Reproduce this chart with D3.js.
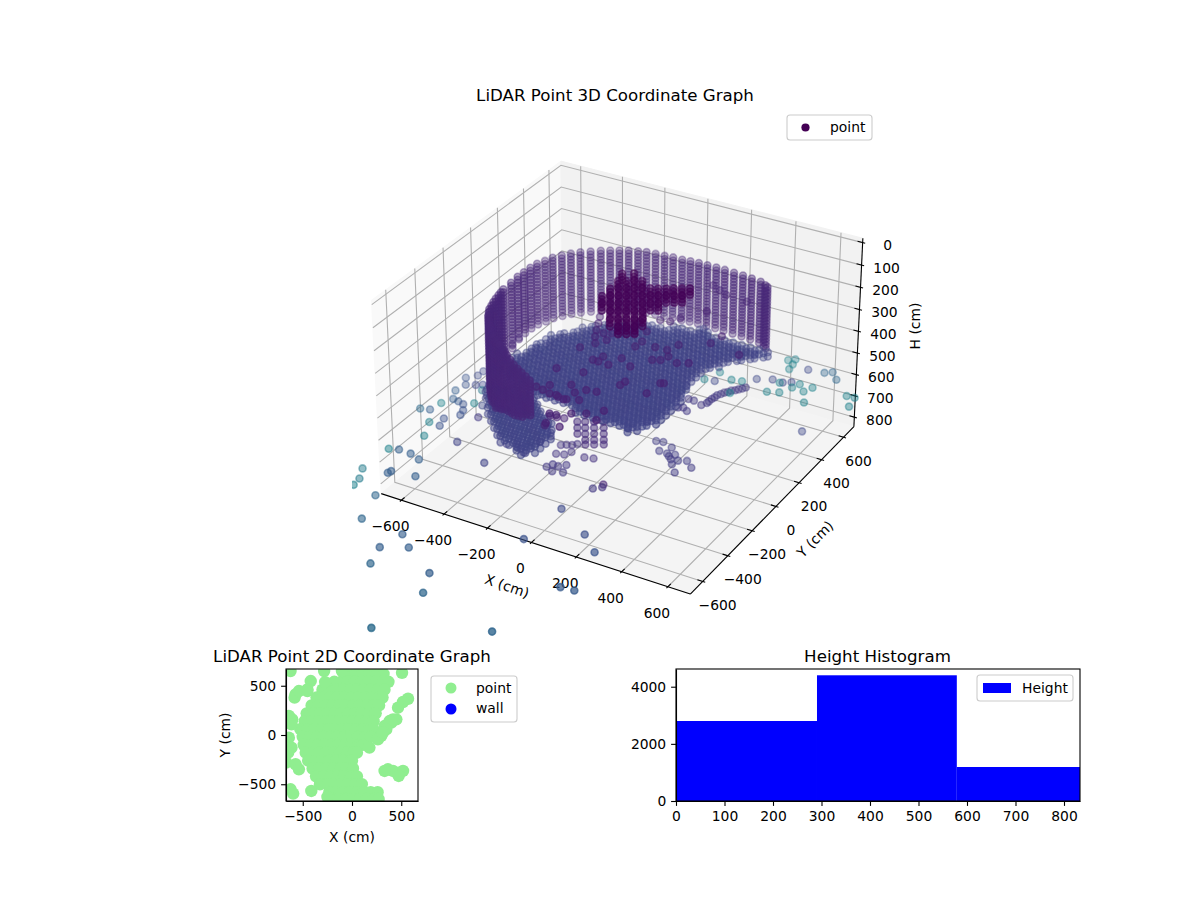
<!DOCTYPE html>
<html><head><meta charset="utf-8"><title>LiDAR</title>
<script src="https://cdn.jsdelivr.net/npm/d3@7"></script>
<style>html,body{margin:0;background:#fff}text{font-family:"DejaVu Sans";fill:#000}</style></head>
<body><svg id="c" width="1200" height="900"></svg>
<script>
// ---------- data ----------
const xTicks=[-600,-400,-200,0,200,400,600];
const yTicks=[-600,-400,-200,0,200,400,600];
const hTicks=[0,100,200,300,400,500,600,700,800];
const xLim=[-668,668],yLim=[-668,668],hLim=[828,-2];
// wall columns: x, y, lowest-reaching height
const wallColumns=[[-125,-488,430],[-154,-470,450],[-183,-453,470],[-212,-435,485],[-241,-417,500],[-273,-391,515],[-305,-365,530],[-337,-339,545],[-369,-313,560],[-400,-285,575],[-430,-258,600],[-458,-229,610],[-486,-200,615],[-510,-168,615],[-534,-137,615],[-547,-112,615],[-560,-88,615],[-568,-60,615],[-577,-31,615],[-584,-2,615],[-590,28,615],[-595,54,610],[-599,80,600],[-602,143,575],[-606,200,560],[-604,245,553],[-602,292,553],[-596,335,553],[-581,373,553],[-568,412,553],[-546,448,553],[-522,481,553],[-494,511,553],[-461,538,553],[-428,565,553],[-395,586,553],[-362,605,553],[-329,624,553],[-292,638,553],[-258,649,553],[-218,654,553],[-177,657,553],[-140,663,553],[-98,664,553],[-62,669,553],[-25,673,553],[15,673,553],[56,674,553],[96,673,553],[140,670,553],[183,667,553],[226,662,553],[270,656,553],[300,639,553],[315,629,553]];
const wallHeights=[270,284,298,312,326,340,354,368,382,396,410,424,438,452,466,480,494,508,522,536,553,560,575,590,600,615];
const wallColor=0.11;
// flat surface: grid lines and row extents
const gridXs=[-580,-540,-500,-460,-420,-380,-340,-300,-260,-220,-180,-140,-100,-60,-20,20,60,100,140,180,220,260,300,340,380];
const gridXsB=[-600,-560,-520,-480,-440,-400,-360,-320,-280,-240,-200,-160,-120,-80,-40,0,40,80,120,160,200,240,280,320,360];
const discColor=0.2;
const discLayers=[[550,gridXs],[560,gridXsB],[570,gridXs],[580,gridXsB]];
const discRows=[[640,0,40],[600,-117,344],[560,-275,303],[520,-330,263],[480,-365,222],[440,-402,205],[400,-430,190],[360,-458,176],[320,-480,175],[280,-500,175],[240,-518,175],[200,-525,187],[160,-532,195],[120,-538,204],[80,-543,208],[40,-545,210],[0,-532,212],[-40,-503,208],[-80,-427,202],[-120,-340,190],[-160,-125,172],[-200,130,152]];
const lumpColor=0.2;
const lumpLayers=[[650,gridXs],[665,gridXsB],[680,gridXs],[695,gridXsB]];
const lumpRows=[[-20,-590,-388],[-60,-600,-345],[-100,-580,-310],[-140,-555,-260],[-180,-520,-210],[-220,-485,-190],[-260,-455,-190],[-300,-415,-190],[-340,-365,-200],[-380,-275,-210]];
// dense dark cluster, stacked at several heights
const darkXY=[[-139,241],[-98,266],[-122,179],[-94,195],[-66,211],[-39,227],[-117,109],[-89,125],[-62,141],[-36,157],[-8,172],[19,189],[47,203],[75,219],[100,235],[128,251],[155,267],[-113,39],[-86,55],[-58,71],[-31,87],[-4,102],[23,119],[50,135],[78,149],[105,165],[133,181],[159,197],[-82,-16],[-54,0],[-27,16],[1,31],[27,48],[55,64],[82,79],[109,94],[-22,-54],[4,-39],[31,-22],[59,-6],[87,9],[9,-110],[36,-93],[64,-77],[91,-62],[117,-46],[67,-147],[95,-132],[122,-115]];
const darkHeights=[150,165,180];
const darkColor=0.005;
// vertical stacks: x, y, last height
const stackColumns=[[-96,-187,656],[-69,-172,705],[-39,-154,705],[-6,-135,705]];
const stackHeights=[600,628,656,684,705];
const stackColor=0.13;
// scattered dark points above the surface (h=400)
const scatterH400=[[-208,25],[-203,-164],[-95,-139],[-113,-35],[-88,-36],[-91,7],[-40,-39],[-21,32],[41,-7],[-21,141],[-17,189],[51,176],[103,180],[133,136],[123,238],[119,97],[90,81],[187,108],[228,131],[239,386],[369,288],[227,314],[-158,-289],[-86,-246],[-44,-290],[-56,-356],[-1,-330],[-97,-342],[-16,-251],[26,-242],[83,-120],[79,-152],[200,-156],[208,-62],[220,-56],[-47,-474],[-19,-471],[25,-432],[75,-404],[133,-427],[123,-352],[-23,-541],[37,-539],[-197,-326],[-162,-334],[-125,-345],[-83,-350],[-46,-350],[4,748],[48,722],[91,700],[191,692],[89,536],[-266,281],[-244,231],[-222,179],[-200,131],[-172,84],[-184,170],[-146,129],[-155,187],[-133,215],[-105,328],[-41,380],[0,389],[23,433],[-81,230],[-41,269]];
const scatterColor=0.09;
// chain on the right (h=650)
const chainH650=[[316,457],[298,429],[277,405],[260,377],[245,344],[240,307],[238,270],[226,245],[159,260],[184,260],[173,191],[155,181],[199,174],[308,442],[289,416],[270,389],[253,361],[244,324],[239,285]];
const chainColor=0.17;
// far points: x, y, h, colour value
const farPoints=[[364,741,650,.45],[387,762,650,.45],[396,720,650,.45],[401,678,650,.45],[167,513,650,.45],[139,431,650,.45],[237,482,650,.45],[279,494,650,.45],[281,387,650,.45],[406,470,650,.45],[452,490,650,.45],[418,560,650,.45],[494,590,650,.45],[479,551,650,.45],[534,545,650,.45],[552,590,650,.45],[575,468,650,.45],[701,601,650,.45],[735,604,650,.45],[746,530,650,.45],
[540,723,650,.33],[567,744,650,.33],[607,697,650,.33],[471,712,650,.22],[323,540,650,.22],[182,440,650,.22],[381,569,650,.22],[428,567,650,.22],[458,587,650,.22],[561,489,800,.22],
[-721,-595,700,.45],[-683,-579,700,.3],[-626,-582,700,.3],[-574,-602,700,.3],[-624,-745,700,.3],[-620,-728,700,.3],[-517,-712,700,.3],[-695,-344,700,.45],[-785,-274,700,.35],[-746,-261,700,.3],[-654,-443,700,.45],[-643,-347,700,.25],[-659,-292,700,.25],[-735,-195,700,.45],[-711,-143,700,.3],[-683,-148,700,.28],[-653,-158,700,.25],[-627,-199,700,.25],[-617,-235,700,.25],[-545,-214,700,.17],[-515,-416,700,.2],[-338,-495,700,.2],[-740,-81,700,.3],[-759,27,700,.25],[-728,-22,700,.25],[-725,108,700,.22],[-726,67,700,.22],[-692,-2,700,.22],[-667,13,700,.22],[-647,-25,700,.4],[-677,86,700,.2],[-644,25,700,.2],[-618,-130,700,.45],[-580,-128,700,.22],
[-823,-637,800,.42],[-791,-705,800,.42],[-784,-755,800,.45],[-667,-775,800,.33],[-618,-940,800,.33],[-421,-953,800,.3],[-446,-1070,800,.3],[-349,-1017,800,.3],[-414,-1179,800,.33],[-186,-1122,800,.3],[-135,-1242,800,.33],[-174,-1524,800,.35],[219,-1324,800,.33],
[-1,-749,800,.25],[184,-605,800,.24],[279,-692,800,.26],[287,-956,800,.28],[343,-949,800,.28],[14,-495,800,.22],[45,-308,800,.17],[66,-262,800,.1],[72,-281,800,.16],
[85,128,800,.18],[114,135,800,.18],[164,115,800,.18],[133,68,800,.18],[170,66,800,.18],[186,52,800,.18],[202,74,800,.18],[204,36,800,.18],[234,41,800,.18],[226,5,800,.18],[266,57,800,.18],[306,20,800,.18],[266,-44,800,.18],
[-214,-158,800,.16],[-232,-91,800,.16],[-213,-78,800,.16],[-193,-68,800,.16],[-178,-52,800,.16],[-168,-115,800,.16],[-183,-147,800,.16],[-196,-261,800,.17],[-184,-233,800,.17],[-159,-234,800,.17],[-135,-210,800,.17],[-160,-278,800,.17],[-118,-264,800,.17],[-102,-125,800,.15],[-66,-114,800,.15],
[-425,-194,800,.18],[-380,-192,800,.18],[-332,-215,800,.18],[-336,-165,800,.18],[-303,-53,800,.18],[-320,-110,800,.18],
[-212,-202,600,.1],[-183,-199,600,.1],[-154,-191,600,.1],[-193,-274,600,.1]];
// 2D plan view
const planRows=[[620,[-30,40,110,180,250,320]],[540,[-180,-110,-40,30,100,170,240,310,370]],[460,[-300,-230,-160,-90,-20,50,120,190,260,330]],[380,[-360,-290,-220,-150,-80,-10,60,130,200,270,310]],[300,[-410,-340,-270,-200,-130,-60,10,80,150,220,275]],[220,[-460,-390,-320,-250,-180,-110,-40,30,100,170,240]],[140,[-480,-410,-340,-270,-200,-130,-60,10,80,150,220]],[60,[-525,-450,-380,-310,-240,-170,-100,-30,40,110,180,215]],[-20,[-500,-430,-360,-290,-220,-150,-80,-10,60,130,190]],[-100,[-490,-420,-350,-280,-210,-140,-70,0,70,110]],[-180,[-470,-400,-330,-260,-190,-120,-50,20,50]],[-260,[-445,-370,-300,-230,-160,-90,-20,0]],[-340,[-400,-330,-260,-190,-120,-50,10]],[-420,[-365,-290,-220,-150,-80,-10,50]],[-500,[-325,-250,-180,-110,-40,30,100]],[-580,[-230,-160,-90,-20,50,120,190,260]],[-650,[-200,-130,-60,10,80,150,220,270]]];
const planExtra=[[-624,649],[-283,649],[-102,649],[508,632],[-419,548],[-453,463],[-273,537],[-573,412],[-583,379],[-539,446],[-453,446],[-607,159],[-641,193],[-614,108],[-641,-27],[-614,-128],[-648,-179],[-668,-280],[-573,-297],[-539,-348],[-624,-551],[-597,-595],[-413,-568],[-249,-629],[569,368],[518,335],[467,277],[450,159],[382,142],[331,91],[297,-10],[263,-44],[177,-128],[365,-348],[416,-365],[484,-382],[518,-365],[474,-416],[331,-365],[416,159],[399,125],[348,57],[314,24]];
const planLim=[-670,670],planTicks=[-500,0,500];
// histogram
const histEdges=[0,290.7,579,833];
const histCounts=[2800,4400,1190];
const histXTicks=[0,100,200,300,400,500,600,700,800];
const histYTicks=[0,2000,4000];
const histYMax=4620;

// ---------- 3D projection (elev 30, azim -60, inverted H) ----------
const svg=d3.select("#c");
const nrm=Math.sqrt(41),k=1.8294640721620434*25/24/nrm;
const bx=4*k,by=4*k,bz=2.5*k;
const sxN=d3.scaleLinear().domain(xLim).range([0,bx]);
const syN=d3.scaleLinear().domain(yLim).range([0,by]);
const shN=d3.scaleLinear().domain(hLim).range([0,bz]);
const rad=Math.PI/180,el=30*rad,az=-60*rad;
const w=[Math.cos(el)*Math.cos(az),Math.cos(el)*Math.sin(az),Math.sin(el)];
const R=[bx/2,by/2,bz/2],E=R.map((r,i)=>r+10*w[i]);
const cross=(a,b)=>[a[1]*b[2]-a[2]*b[1],a[2]*b[0]-a[0]*b[2],a[0]*b[1]-a[1]*b[0]];
const dot=(a,b)=>a[0]*b[0]+a[1]*b[1]+a[2]*b[2];
let u=cross([0,0,1],w);const ul=Math.sqrt(dot(u,u));u=u.map(d=>d/ul);
const v=cross(w,u);
const vx=d3.scaleLinear().domain([-0.095,0.09]).range([352,878]);
const vy=d3.scaleLinear().domain([-0.095,0.09]).range([636,110]);
function proj(x,y,h){
  const d=[sxN(x)-E[0],syN(y)-E[1],shN(h)-E[2]];
  const zv=dot(w,d);
  return {px:vx(dot(u,d)/-zv),py:vy(dot(v,d)/-zv),depth:-zv};
}
const P=(x,y,h)=>{const p=proj(x,y,h);return [p.px,p.py];};
const padX=(xLim[1]-xLim[0])/48,padH=(hLim[0]-hLim[1])/48;
const X0=xLim[0]-padX,X1=xLim[1]+padX,Y0=yLim[0]-padX,Y1=yLim[1]+padX,HB=hLim[0]+padH,HT=hLim[1]-padH;
const line=d3.line();
const g3=svg.append("g");
const poly=(pts,fill)=>g3.append("path").attr("d",line(pts)+"Z").attr("fill",fill).attr("stroke",fill);
poly([P(X0,Y0,HB),P(X0,Y1,HB),P(X0,Y1,HT),P(X0,Y0,HT)],"#f9f9f9");
poly([P(X0,Y1,HB),P(X1,Y1,HB),P(X1,Y1,HT),P(X0,Y1,HT)],"#f2f2f2");
poly([P(X0,Y0,HB),P(X1,Y0,HB),P(X1,Y1,HB),P(X0,Y1,HB)],"#f4f4f4");
const gl=(pts)=>g3.append("path").attr("d",line(pts)).attr("fill","none").attr("stroke","#b0b0b0").attr("stroke-width",1.1);
xTicks.forEach(t=>gl([P(t,Y0,HB),P(t,Y1,HB),P(t,Y1,HT)]));
yTicks.forEach(t=>gl([P(X1,t,HB),P(X0,t,HB),P(X0,t,HT)]));
hTicks.forEach(t=>gl([P(X0,Y0,t),P(X0,Y1,t),P(X1,Y1,t)]));
const ax=(pts,sw)=>g3.append("path").attr("d",line(pts)).attr("fill","none").attr("stroke","#000").attr("stroke-width",sw||1.1);
ax([P(X0,Y0,HB),P(X1,Y0,HB)]);ax([P(X1,Y0,HB),P(X1,Y1,HB)]);ax([P(X1,Y1,HB),P(X1,Y1,HT)]);
const txt=(g,x,y,s,anc,size)=>g.append("text").attr("x",x).attr("y",y).attr("text-anchor",anc||"middle").attr("dominant-baseline","central").attr("font-size",size||13.89).text(s);
const fmt=d=>String(d).replace("-","\u2212");
const dXY=(xLim[1]-xLim[0])/12;
xTicks.forEach(t=>{ax([P(t,Y0-.1*dXY,HB),P(t,Y0+.2*dXY,HB)]);const p=P(t,Y0,HB);txt(g3,p[0]-11,p[1]+26,fmt(t));});
yTicks.forEach(t=>{ax([P(X1+.1*dXY,t,HB),P(X1-.2*dXY,t,HB)]);const p=P(X1,t,HB);txt(g3,p[0]+15,p[1]+23.5,fmt(t));});
hTicks.forEach(t=>{ax([P(X1+.1*dXY,Y1,t),P(X1-.2*dXY,Y1,t)]);const p=P(X1,Y1,t);txt(g3,p[0]+25,p[1]+2.5,fmt(t));});
const rot=(x,y,a,s)=>g3.append("text").attr("transform",`translate(${x},${y}) rotate(${a})`).attr("text-anchor","middle").attr("dominant-baseline","central").attr("font-size",13.89).text(s);
rot(507,586,19,"X (cm)");rot(815,539,-45,"Y (cm)");rot(915,326,-90,"H (cm)");
txt(svg,615,95,"LiDAR Point 3D Coordinate Graph","middle",16.67);

// build point list
const pts=[];
const add=(x,y,h,c)=>pts.push({x,y,h,c});
wallColumns.forEach(([x,y,b])=>wallHeights.filter(h=>h<=b).forEach(h=>add(x,y,h,wallColor)));
const fillRows=(rows,layers,c)=>layers.forEach(([h,xs])=>rows.forEach(([y,a,b])=>xs.filter(x=>x>=a&&x<=b).forEach(x=>add(x,y,h,c))));
fillRows(discRows,discLayers,discColor);
fillRows(lumpRows,lumpLayers,lumpColor);
darkXY.forEach(([x,y])=>darkHeights.forEach(h=>add(x,y,h,darkColor)));
stackColumns.forEach(([x,y,b])=>stackHeights.filter(h=>h<=b).forEach(h=>add(x,y,h,stackColor)));
scatterH400.forEach(([x,y])=>add(x,y,400,scatterColor));
chainH650.forEach(([x,y])=>add(x,y,650,chainColor));
farPoints.forEach(([x,y,h,c])=>add(x,y,h,c));
pts.forEach(p=>Object.assign(p,proj(p.x,p.y,p.h)));
const dE=d3.extent(pts,p=>p.depth);
const alpha=d3.scaleLinear().domain(dE).range([0.8,0.3]);
pts.sort((a,b)=>b.depth-a.depth);
svg.append("clipPath").attr("id","clip3").append("rect").attr("x",352).attr("y",110).attr("width",526).attr("height",526);
svg.append("g").attr("clip-path","url(#clip3)").selectAll("circle").data(pts).join("circle")
 .attr("cx",d=>d.px).attr("cy",d=>d.py).attr("r",3.5)
 .attr("fill",d=>d3.interpolateViridis(d.c)).attr("fill-opacity",d=>alpha(d.depth))
 .attr("stroke",d=>d3.interpolateViridis(d.c)).attr("stroke-opacity",d=>alpha(d.depth)).attr("stroke-width",1.6);
// 3D legend
const legend=(x,y,wd,ht)=>svg.append("rect").attr("x",x).attr("y",y).attr("width",wd).attr("height",ht).attr("rx",3).attr("fill","#fff").attr("fill-opacity",.8).attr("stroke","#ccc").attr("stroke-width",1.1);
legend(787,115,85,25);
svg.append("circle").attr("cx",805.5).attr("cy",127.5).attr("r",4.1).attr("fill","#440154");
txt(svg,830,127,"point","start");

// ---------- 2D plan ----------
const ax2=svg.append("g");
const sx2=d3.scaleLinear().domain(planLim).range([286,418]);
const sy2=d3.scaleLinear().domain(planLim).range([801,669]);
const planPts=[];
planRows.forEach(([y,xs])=>xs.forEach(x=>planPts.push([x,y])));
planExtra.forEach(p=>planPts.push(p));
svg.append("clipPath").attr("id","clip2").append("rect").attr("x",286).attr("y",669).attr("width",132).attr("height",132);
ax2.append("g").attr("clip-path","url(#clip2)").selectAll("circle").data(planPts).join("circle")
 .attr("cx",d=>sx2(d[0])).attr("cy",d=>sy2(d[1])).attr("r",6.2).attr("fill","#90ee90");
function style(g){g.selectAll("text").attr("font-size",13.89).attr("font-family","DejaVu Sans").attr("fill","#000");g.selectAll("line,path").attr("stroke","#000").attr("stroke-width",1.1);return g;}
const f2=d=>fmt(d);
style(ax2.append("g").attr("transform","translate(0,801)").call(d3.axisBottom(sx2).tickValues(planTicks).tickFormat(f2).tickSize(4.9).tickPadding(4.9).tickSizeOuter(0)));
style(ax2.append("g").attr("transform","translate(286,0)").call(d3.axisLeft(sy2).tickValues(planTicks).tickFormat(f2).tickSize(4.9).tickPadding(4.9).tickSizeOuter(0)));
ax2.append("rect").attr("x",286).attr("y",669).attr("width",132).attr("height",132).attr("fill","none").attr("stroke","#000").attr("stroke-width",1.1);
txt(svg,352,656,"LiDAR Point 2D Coordinate Graph","middle",16.67);
txt(svg,352,837,"X (cm)");
svg.append("text").attr("transform","translate(225,735) rotate(-90)").attr("text-anchor","middle").attr("dominant-baseline","central").attr("font-size",13.89).text("Y (cm)");
legend(431,676,86,46);
svg.append("circle").attr("cx",451).attr("cy",688).attr("r",5.5).attr("fill","#90ee90");
svg.append("circle").attr("cx",451).attr("cy",709).attr("r",5.5).attr("fill","#0000ff");
txt(svg,476,688,"point","start");txt(svg,476,708,"wall","start");

// ---------- histogram ----------
const ax3=svg.append("g");
const sxH=d3.scaleLinear().domain([0,833]).range([676,1080]);
const syH=d3.scaleLinear().domain([0,histYMax]).range([801,669]);
ax3.selectAll("rect.bar").data(histCounts).join("rect").attr("class","bar")
 .attr("x",(d,i)=>sxH(histEdges[i])).attr("width",(d,i)=>sxH(histEdges[i+1])-sxH(histEdges[i]))
 .attr("y",d=>syH(d)).attr("height",d=>syH(0)-syH(d)).attr("fill","#0000ff");
style(ax3.append("g").attr("transform","translate(0,801)").call(d3.axisBottom(sxH).tickValues(histXTicks).tickSize(4.9).tickPadding(4.9).tickSizeOuter(0)));
style(ax3.append("g").attr("transform","translate(676,0)").call(d3.axisLeft(syH).tickValues(histYTicks).tickFormat(d3.format("d")).tickSize(4.9).tickPadding(4.9).tickSizeOuter(0)));
ax3.append("rect").attr("x",676).attr("y",669).attr("width",404).attr("height",132).attr("fill","none").attr("stroke","#000").attr("stroke-width",1.1);
txt(svg,877.5,656,"Height Histogram","middle",16.67);
legend(977,675,96,26);
svg.append("rect").attr("x",983).attr("y",683).attr("width",28).attr("height",10).attr("fill","#0000ff");
txt(svg,1022,688,"Height","start");
</script></body></html>
